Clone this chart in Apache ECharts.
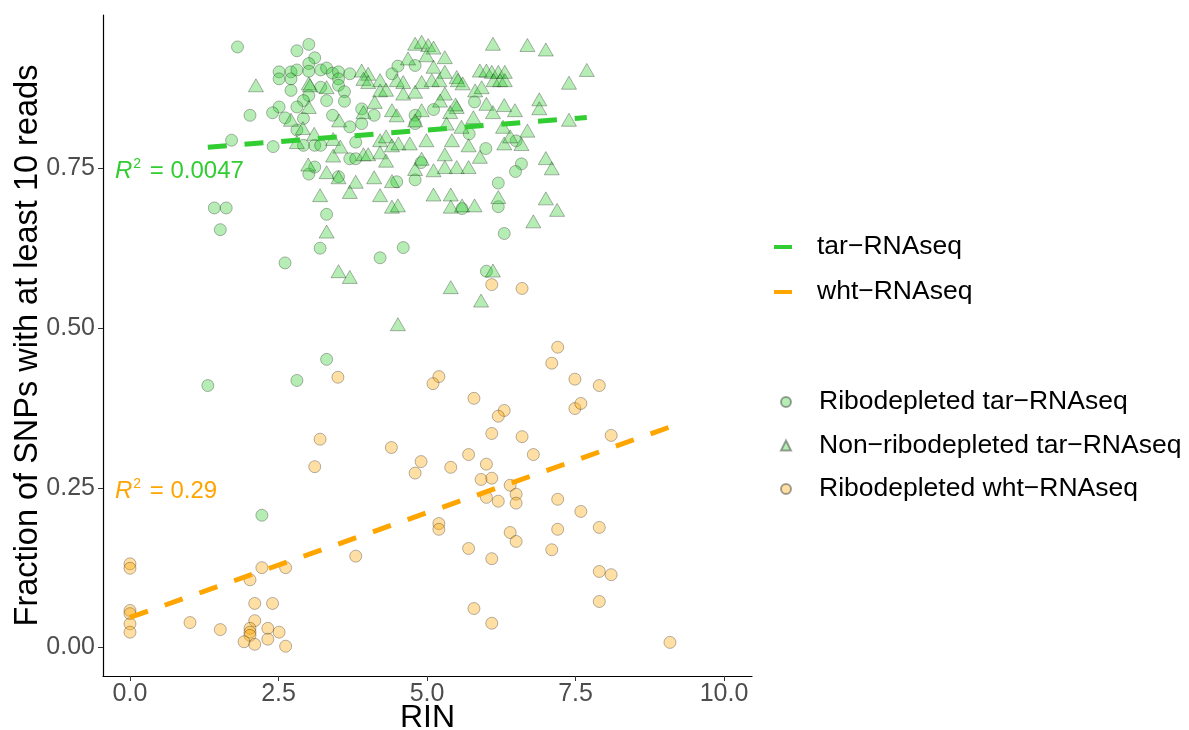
<!DOCTYPE html>
<html>
<head>
<meta charset="utf-8">
<title>RIN vs SNP coverage</title>
<script src="https://cdn.jsdelivr.net/npm/echarts@6/dist/echarts.min.js"></script>
<style>
  html, body { margin: 0; padding: 0; background: #fff; }
  #chart { width: 1189px; height: 730px; }
</style>
</head>
<body>
<div id="chart"></div>
<script>
// Ribodepleted tar-RNAseq (green circles)  [RIN, fraction]
const ribodepletedTar = [
  [1.81,0.940],[2.02,0.833],[1.71,0.794],[2.41,0.784],[1.42,0.688],[1.62,0.688],[1.52,0.654],[2.61,0.602],
  [2.51,0.901],[2.51,0.890],[2.71,0.901],[2.71,0.890],[2.81,0.934],[3.01,0.944],[3.11,0.923],[3.01,0.914],
  [3.01,0.902],[2.81,0.904],[2.71,0.872],[3.01,0.864],[2.92,0.856],[2.51,0.846],[2.40,0.837],[2.61,0.829],
  [2.81,0.846],[2.92,0.828],[2.81,0.810],[2.92,0.786],[3.11,0.786],[3.01,0.741],[3.11,0.752],[3.20,0.625],
  [3.21,0.904],[3.31,0.907],[3.41,0.899],[3.51,0.901],[3.51,0.890],[3.51,0.880],[3.61,0.870],[3.61,0.855],
  [3.31,0.856],[3.21,0.877],[3.41,0.833],[3.70,0.815],[3.70,0.765],[3.80,0.765],[3.80,0.791],[3.21,0.786],
  [3.70,0.898],[3.90,0.843],[3.90,0.820],[4.11,0.833],[4.41,0.898],[4.51,0.910],[4.80,0.911],[4.80,0.833],
  [4.80,0.820],[5.11,0.842],[5.80,0.854],[5.71,0.804],[5.99,0.781],[4.90,0.759],[4.49,0.729],[4.80,0.732],
  [3.51,0.737],[3.31,0.678],[4.21,0.610],[4.60,0.626],[6.20,0.727],[6.20,0.690],[5.59,0.687],[6.30,0.648],
  [6.50,0.793],[6.00,0.589],[6.59,0.757],[6.49,0.745],
  [3.31,0.451],[2.81,0.418],[1.31,0.410],[2.22,0.207]
];
// Non-ribodepleted tar-RNAseq (green triangles)
const nonRibodepletedTar = [
  [2.12,0.880],[3.01,0.883],[3.01,0.846],[2.71,0.826],[2.91,0.813],[3.10,0.804],[2.81,0.791],[3.00,0.756],
  [3.20,0.708],[4.80,0.945],[4.91,0.948],[5.02,0.943],[5.11,0.939],[6.11,0.945],[4.68,0.922],[4.99,0.927],
  [5.30,0.924],[5.11,0.909],[5.30,0.901],[3.90,0.903],[4.01,0.898],[3.93,0.890],[4.21,0.888],[4.49,0.888],
  [4.60,0.885],[4.01,0.885],[4.91,0.885],[5.08,0.888],[5.21,0.888],[5.50,0.893],[5.52,0.888],[5.60,0.883],
  [5.89,0.903],[6.00,0.903],[6.09,0.901],[6.20,0.901],[6.31,0.901],[6.12,0.888],[6.23,0.888],[6.31,0.888],
  [3.03,0.880],[3.31,0.877],[4.21,0.872],[4.31,0.873],[4.60,0.867],[4.80,0.870],[5.30,0.867],[5.81,0.872],
  [5.92,0.877],[5.22,0.856],[4.12,0.854],[5.50,0.846],[5.48,0.850],[6.00,0.851],[6.30,0.849],[6.48,0.841],
  [4.41,0.841],[4.49,0.833],[4.91,0.841],[5.39,0.838],[5.78,0.830],[6.11,0.838],[3.52,0.825],[3.93,0.838],
  [4.80,0.825],[5.33,0.820],[5.58,0.815],[6.28,0.815],[3.42,0.796],[3.54,0.784],[3.42,0.770],[4.21,0.794],
  [4.31,0.800],[4.41,0.786],[4.52,0.789],[4.71,0.789],[4.99,0.794],[5.42,0.794],[5.70,0.786],[6.30,0.789],
  [5.30,0.772],[5.89,0.768],[3.93,0.772],[4.01,0.772],[4.21,0.775],[4.31,0.762],[4.91,0.765],[4.80,0.749],
  [3.31,0.744],[3.51,0.736],[3.80,0.729],[4.11,0.736],[4.41,0.730],[5.11,0.747],[5.30,0.752],[5.50,0.752],
  [5.70,0.752],[3.70,0.713],[4.21,0.708],[5.11,0.709],[5.40,0.709],[6.20,0.705],[4.41,0.690],[4.51,0.692],
  [5.40,0.690],[5.59,0.692],[5.80,0.692],[3.31,0.651],[3.51,0.589],[3.70,0.580],[6.11,0.590],[5.40,0.564],
  [5.91,0.543],[4.51,0.506],[6.69,0.943],[7.00,0.936],[7.69,0.904],[7.39,0.884],[6.89,0.858],[6.89,0.844],
  [7.39,0.826],[6.69,0.809],[6.40,0.800],[6.59,0.788],[7.00,0.766],[7.10,0.750],[7.00,0.703],[7.19,0.685],
  [6.79,0.667]
];
// Ribodepleted wht-RNAseq (orange circles)
const ribodepletedWht = [
  [0,0.131],[0,0.124],[0,0.058],[0,0.053],[0,0.037],[0,0.024],[1.01,0.039],[1.52,0.028],
  [2.02,0.106],[2.22,0.125],[2.62,0.125],[2.10,0.069],[2.40,0.069],[2.10,0.042],[2.02,0.030],[2.02,0.024],
  [2.02,0.019],[1.92,0.009],[2.10,0.005],[2.32,0.030],[2.32,0.013],[2.51,0.024],[2.62,0.002],[3.80,0.143],
  [3.11,0.283],[4.80,0.273],[4.90,0.291],[3.50,0.423],[3.20,0.326],[4.40,0.313],[6.09,0.568],[6.60,0.562],
  [7.20,0.470],[7.10,0.445],[5.20,0.424],[5.10,0.413],[7.49,0.420],[7.90,0.410],[5.79,0.390],[6.30,0.371],
  [6.20,0.362],[7.49,0.374],[7.59,0.382],[6.09,0.335],[6.60,0.330],[8.10,0.332],[5.70,0.302],[6.79,0.302],
  [6.00,0.287],[5.40,0.282],[5.91,0.263],[6.09,0.265],[6.40,0.254],[6.50,0.240],[6.50,0.226],[6.00,0.235],
  [6.20,0.229],[7.20,0.232],[7.59,0.213],[7.90,0.188],[7.20,0.185],[5.20,0.194],[5.20,0.185],[6.40,0.180],
  [6.50,0.166],[7.10,0.153],[5.70,0.155],[6.09,0.139],[7.90,0.119],[8.10,0.114],[7.90,0.072],[5.79,0.061],
  [6.09,0.038],[9.09,0.008]
];

// linear fits
const tarFit = [0.7735, 0.0073];   // intercept, slope
const whtFit = [0.047, 0.0328];
const tarR2 = "0.0047";
const whtR2 = "0.29";

const xTicks = [0, 2.5, 5, 7.5, 10];
const yTicks = [0, 0.25, 0.5, 0.75];

const GREEN = "#32CD32";
const ORANGE = "#FFA500";
const FONT = "Liberation Sans, Arial, sans-serif";

// end points of a fitted line over the x range of the points
function fitLine(points, fit) {
  const xs = points.map((p) => p[0]);
  const x0 = Math.min(...xs);
  const x1 = Math.max(...xs);
  return [
    [x0, fit[0] + fit[1] * x0],
    [x1, fit[0] + fit[1] * x1],
  ];
}

const tarPoints = ribodepletedTar.concat(nonRibodepletedTar);

const myChart = echarts.init(document.getElementById("chart"));

const pointStyle = (rgb) => ({
  color: "rgba(" + rgb + ",0.45)",
  borderColor: "rgba(0,0,0,0.45)",
  borderWidth: 0.8,
});

const r2Text = (txt, color, y) => ({
  type: "text",
  x: 115,
  y: y,
  style: {
    text: "{r|R}{s|2}{t| = " + txt + "}",
    fill: color,
    verticalAlign: "middle",
    rich: {
      r: { fontSize: 24, fontStyle: "italic", fontFamily: FONT, fill: color },
      s: { fontSize: 14, fontFamily: FONT, fill: color, padding: [0, 2, 14, 1] },
      t: { fontSize: 24, fontFamily: FONT, fill: color },
    },
  },
});

const legendText = (pad) => ({
  fontSize: 26.5,
  color: "#000",
  lineHeight: 30,
  padding: [0, 0, 0, pad],
  fontFamily: FONT,
});

const option = {
  animation: false,
  backgroundColor: "#fff",
  textStyle: { fontFamily: FONT },
  grid: { left: 103, top: 15, width: 649, height: 661, outerBoundsMode: "none", containLabel: false },
  xAxis: {
    type: "value",
    min: -0.4545,
    max: 10.471,
    name: "RIN",
    nameLocation: "middle",
    nameGap: 26,
    nameMoveOverlap: false,
    nameTextStyle: { fontSize: 32, color: "#000", fontFamily: FONT, verticalAlign: "top" },
    splitLine: { show: false },
    axisLine: { onZero: false, lineStyle: { color: "#000", width: 1.2 } },
    axisTick: { customValues: xTicks, length: 5, lineStyle: { color: "#333" } },
    axisLabel: {
      customValues: xTicks,
      fontSize: 25,
      color: "#4d4d4d",
      margin: 6,
      formatter: (v) => v.toFixed(1),
    },
  },
  yAxis: {
    type: "value",
    min: -0.0446,
    max: 0.990,
    name: "Fraction of SNPs with at least 10 reads",
    nameLocation: "middle",
    nameGap: 58,
    nameMoveOverlap: false,
    nameTextStyle: { fontSize: 32.5, color: "#000", fontFamily: FONT },
    splitLine: { show: false },
    axisLine: { show: true, onZero: false, lineStyle: { color: "#000", width: 1.2 } },
    axisTick: { show: true, customValues: yTicks, length: 5, lineStyle: { color: "#333" } },
    axisLabel: {
      customValues: yTicks,
      fontSize: 25,
      color: "#4d4d4d",
      margin: 8,
      formatter: (v) => v.toFixed(2),
    },
  },
  legend: [
    {
      data: [
        { name: "tar−RNAseq", icon: "rect", itemStyle: { color: GREEN } },
        { name: "wht−RNAseq", icon: "rect", itemStyle: { color: ORANGE } },
      ],
      orient: "vertical",
      left: 774,
      top: 232,
      padding: 0,
      itemWidth: 18,
      itemHeight: 4,
      itemGap: 15,
      selectedMode: false,
      textStyle: legendText(20),
    },
    {
      data: [
        { name: "Ribodepleted tar−RNAseq", icon: "circle" },
        { name: "Non−ribodepleted tar−RNAseq", icon: "triangle" },
        { name: "Ribodepleted wht−RNAseq", icon: "circle" },
      ],
      orient: "vertical",
      left: 780,
      top: 387,
      padding: 0,
      itemWidth: 10,
      itemHeight: 10,
      itemGap: 13.5,
      selectedMode: false,
      textStyle: legendText(23),
    },
  ],
  graphic: [r2Text(tarR2, GREEN, 171), r2Text(whtR2, ORANGE, 491)],
  series: [
    {
      name: "Ribodepleted tar−RNAseq",
      type: "scatter",
      symbol: "circle",
      symbolSize: 12,
      itemStyle: pointStyle("50,205,50"),
      data: ribodepletedTar,
    },
    {
      name: "Non−ribodepleted tar−RNAseq",
      type: "scatter",
      symbol: "triangle",
      symbolSize: [15, 13],
      itemStyle: pointStyle("50,205,50"),
      data: nonRibodepletedTar,
    },
    {
      name: "Ribodepleted wht−RNAseq",
      type: "scatter",
      symbol: "circle",
      symbolSize: 12,
      itemStyle: pointStyle("255,165,0"),
      data: ribodepletedWht,
    },
    {
      name: "tar−RNAseq",
      type: "line",
      showSymbol: false,
      color: GREEN,
      lineStyle: { color: GREEN, width: 5, type: [19, 17.8], cap: "butt" },
      data: fitLine(tarPoints, tarFit),
    },
    {
      name: "wht−RNAseq",
      type: "line",
      showSymbol: false,
      color: ORANGE,
      lineStyle: { color: ORANGE, width: 5, type: [19, 17.8], cap: "butt" },
      data: fitLine(ribodepletedWht, whtFit),
    },
  ],
};

myChart.setOption(option);
</script>
</body>
</html>
